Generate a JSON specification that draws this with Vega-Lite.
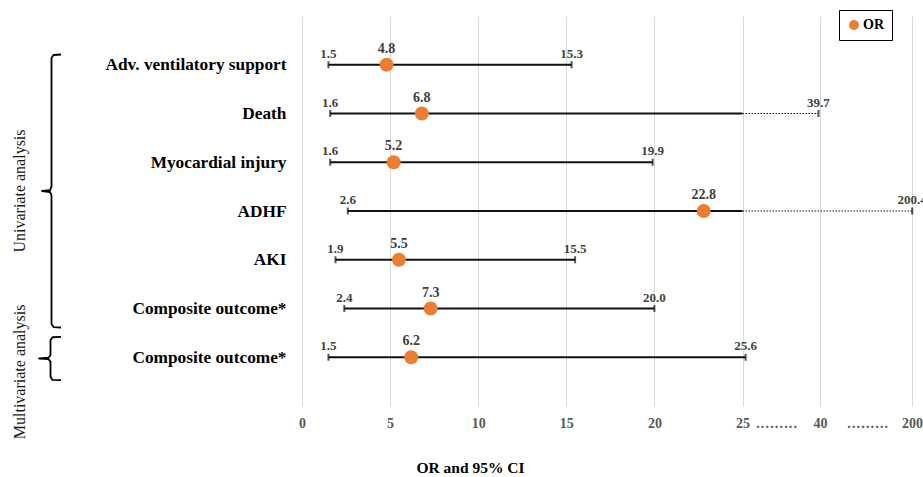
{
  "$schema": "https://vega.github.io/schema/vega-lite/v6.json",
  "padding": {"left": 0, "top": 9, "right": 0, "bottom": 0},
  "background": "white",
  "bounds": "flush",
  "spacing": 202,
  "config": {
    "font": "Liberation Serif",
    "view": {"stroke": null}
  },
  "datasets": {
    "or": [
      {"row": 1, "outcome": "Adv. ventilatory support", "analysis": "Univariate", "or": 4.8, "lo": 1.5, "hi": 15.3, "solid_hi": 15.3, "series": "OR"},
      {"row": 2, "outcome": "Death", "analysis": "Univariate", "or": 6.8, "lo": 1.6, "hi": 39.7, "solid_hi": 25, "series": "OR"},
      {"row": 3, "outcome": "Myocardial injury", "analysis": "Univariate", "or": 5.2, "lo": 1.6, "hi": 19.9, "solid_hi": 19.9, "series": "OR"},
      {"row": 4, "outcome": "ADHF", "analysis": "Univariate", "or": 22.8, "lo": 2.6, "hi": 200.4, "solid_hi": 25, "series": "OR"},
      {"row": 5, "outcome": "AKI", "analysis": "Univariate", "or": 5.5, "lo": 1.9, "hi": 15.5, "solid_hi": 15.5, "series": "OR"},
      {"row": 6, "outcome": "Composite outcome*", "analysis": "Univariate", "or": 7.3, "lo": 2.4, "hi": 20.0, "solid_hi": 20.0, "series": "OR"},
      {"row": 7, "outcome": "Composite outcome*", "analysis": "Multivariate", "or": 6.2, "lo": 1.5, "hi": 25.6, "solid_hi": 25.6, "series": "OR"}
    ],
    "brackets": [
      {"grp": "uni", "ord": 1, "bx": 61, "by": 0.79},
      {"grp": "uni", "ord": 2, "bx": 53.5, "by": 0.80},
      {"grp": "uni", "ord": 3, "bx": 51.5, "by": 0.86},
      {"grp": "uni", "ord": 4, "bx": 51.5, "by": 3.50},
      {"grp": "uni", "ord": 5, "bx": 50, "by": 3.57},
      {"grp": "uni", "ord": 6, "bx": 42, "by": 3.59},
      {"grp": "uni", "ord": 7, "bx": 50, "by": 3.61},
      {"grp": "uni", "ord": 8, "bx": 51.5, "by": 3.68},
      {"grp": "uni", "ord": 9, "bx": 51.5, "by": 6.32},
      {"grp": "uni", "ord": 10, "bx": 53.5, "by": 6.38},
      {"grp": "uni", "ord": 11, "bx": 61, "by": 6.39},
      {"grp": "multi", "ord": 1, "bx": 61, "by": 6.58},
      {"grp": "multi", "ord": 2, "bx": 52.5, "by": 6.59},
      {"grp": "multi", "ord": 3, "bx": 50.5, "by": 6.65},
      {"grp": "multi", "ord": 4, "bx": 50.5, "by": 6.96},
      {"grp": "multi", "ord": 5, "bx": 48.5, "by": 7.01},
      {"grp": "multi", "ord": 6, "bx": 39, "by": 7.026},
      {"grp": "multi", "ord": 7, "bx": 48.5, "by": 7.04},
      {"grp": "multi", "ord": 8, "bx": 50.5, "by": 7.09},
      {"grp": "multi", "ord": 9, "bx": 50.5, "by": 7.40},
      {"grp": "multi", "ord": 10, "bx": 52.5, "by": 7.465},
      {"grp": "multi", "ord": 11, "bx": 61, "by": 7.47}
    ],
    "groups": [
      {"label": "Univariate analysis", "gx": 20, "gy": 3.59},
      {"label": "Multivariate analysis", "gx": 20, "gy": 7.30}
    ]
  },
  "hconcat": [
    {
      "width": 100,
      "height": 390,
      "layer": [
        {
          "data": {"name": "brackets"},
          "mark": {"type": "line", "color": "black", "strokeWidth": 1.8, "strokeJoin": "round"},
          "encoding": {
            "x": {"field": "bx", "type": "quantitative", "scale": {"domain": [0, 100], "nice": false, "zero": false}, "axis": null},
            "y": {"field": "by", "type": "quantitative", "scale": {"domain": [0, 8], "reverse": true, "nice": false, "zero": false}, "axis": null},
            "detail": {"field": "grp", "type": "nominal"},
            "order": {"field": "ord", "type": "quantitative"}
          }
        },
        {
          "data": {"name": "groups"},
          "mark": {"type": "text", "angle": 270, "fontSize": 16, "color": "#1a1a1a", "align": "center", "baseline": "middle"},
          "encoding": {
            "x": {"field": "gx", "type": "quantitative", "scale": {"domain": [0, 100], "nice": false, "zero": false}, "axis": null},
            "y": {"field": "gy", "type": "quantitative", "scale": {"domain": [0, 8], "reverse": true, "nice": false, "zero": false}, "axis": null},
            "text": {"field": "label", "type": "nominal"}
          }
        }
      ]
    },
    {
      "width": 612,
      "height": 390,
      "data": {"name": "or"},
      "encoding": {
        "y": {
          "field": "row",
          "type": "quantitative",
          "scale": {"domain": [0, 8], "reverse": true, "nice": false, "zero": false},
          "axis": {
            "values": [1, 2, 3, 4, 5, 6, 7],
            "labelExpr": "['', 'Adv. ventilatory support', 'Death', 'Myocardial injury', 'ADHF', 'AKI', 'Composite outcome*', 'Composite outcome*'][datum.value]",
            "title": null,
            "grid": false,
            "domain": false,
            "ticks": false,
            "labelPadding": 16,
            "labelLimit": 400,
            "labelFont": "Liberation Serif",
            "labelFontSize": 17.3,
            "labelFontWeight": "bold",
            "labelColor": "black",
            "labelBaseline": "middle"
          }
        }
      },
      "layer": [
        {
          "mark": {"type": "rule", "color": "#111111", "strokeWidth": 2},
          "encoding": {
            "x": {
              "field": "lo",
              "type": "quantitative",
              "scale": {"type": "linear", "domain": [0, 25, 40, 200], "range": [0, 440.5, 518, 610], "nice": false, "zero": false},
              "axis": {
                "values": [0, 5, 10, 15, 20, 25, 31.5, 40, 122, 200],
                "labelExpr": "(datum.value == 31.5 || datum.value == 122) ? '.\u200a.\u200a.\u200a.\u200a.\u200a.\u200a.\u200a.\u200a.' : datum.label",
                "gridOpacity": {"condition": {"test": "datum.value == 31.5 || datum.value == 122", "value": 0}, "value": 1},
                "grid": true,
                "gridColor": "#d9d9d9",
                "gridWidth": 1,
                "domain": false,
                "ticks": false,
                "labelPadding": 10,
                "labelOverlap": false,
                "labelFlush": false,
                "labelFont": "Liberation Serif",
                "labelFontSize": 14,
                "labelFontWeight": "bold",
                "labelColor": "#595959",
                "title": "OR and 95% CI",
                "titleFont": "Liberation Serif",
                "titleFontSize": 15.5,
                "titleFontWeight": "bold",
                "titleColor": "black",
                "titleX": 168,
                "titleY": 61,
                "titleAlign": "center",
                "titleBaseline": "middle"
              }
            },
            "x2": {"field": "solid_hi"}
          }
        },
        {
          "transform": [{"filter": "datum.hi > datum.solid_hi"}],
          "mark": {"type": "rule", "color": "#111111", "strokeWidth": 1.2, "strokeDash": [1.5, 1.5]},
          "encoding": {
            "x": {"field": "solid_hi", "type": "quantitative"},
            "x2": {"field": "hi"}
          }
        },
        {
          "mark": {"type": "tick", "orient": "vertical", "size": 7, "thickness": 2, "color": "#111111"},
          "encoding": {"x": {"field": "lo", "type": "quantitative"}}
        },
        {
          "mark": {"type": "tick", "orient": "vertical", "size": 7, "thickness": 2, "color": "#111111"},
          "encoding": {"x": {"field": "hi", "type": "quantitative"}}
        },
        {
          "mark": {"type": "point", "filled": true, "size": 195, "opacity": 1, "shape": "circle", "strokeWidth": 0},
          "encoding": {
            "x": {"field": "or", "type": "quantitative"},
            "color": {
              "field": "series",
              "type": "nominal",
              "scale": {"range": ["#ED7D31"]},
              "legend": {
                "title": null,
                "orient": "none",
                "legendX": 537,
                "legendY": -6,
                "strokeColor": "black",
                "padding": 8,
                "symbolType": "circle",
                "symbolSize": 100,
                "symbolStrokeWidth": 0,
                "labelOffset": 2,
                "labelFont": "Liberation Serif",
                "labelFontSize": 14,
                "labelFontWeight": "bold",
                "labelColor": "black"
              }
            }
          }
        },
        {
          "mark": {"type": "text", "baseline": "bottom", "dy": -4, "fontSize": 13, "fontWeight": "bold", "color": "#404040"},
          "encoding": {
            "x": {"field": "lo", "type": "quantitative"},
            "text": {"field": "lo", "type": "quantitative", "format": ".1f"}
          }
        },
        {
          "mark": {"type": "text", "baseline": "bottom", "dy": -4, "fontSize": 13, "fontWeight": "bold", "color": "#404040"},
          "encoding": {
            "x": {"field": "hi", "type": "quantitative"},
            "text": {"field": "hi", "type": "quantitative", "format": ".1f"}
          }
        },
        {
          "mark": {"type": "text", "baseline": "bottom", "dy": -9, "fontSize": 14, "fontWeight": "bold", "color": "#404040"},
          "encoding": {
            "x": {"field": "or", "type": "quantitative"},
            "text": {"field": "or", "type": "quantitative", "format": ".1f"}
          }
        }
      ]
    }
  ],
  "resolve": {"scale": {"color": "independent"}, "legend": {"color": "independent"}}
}
